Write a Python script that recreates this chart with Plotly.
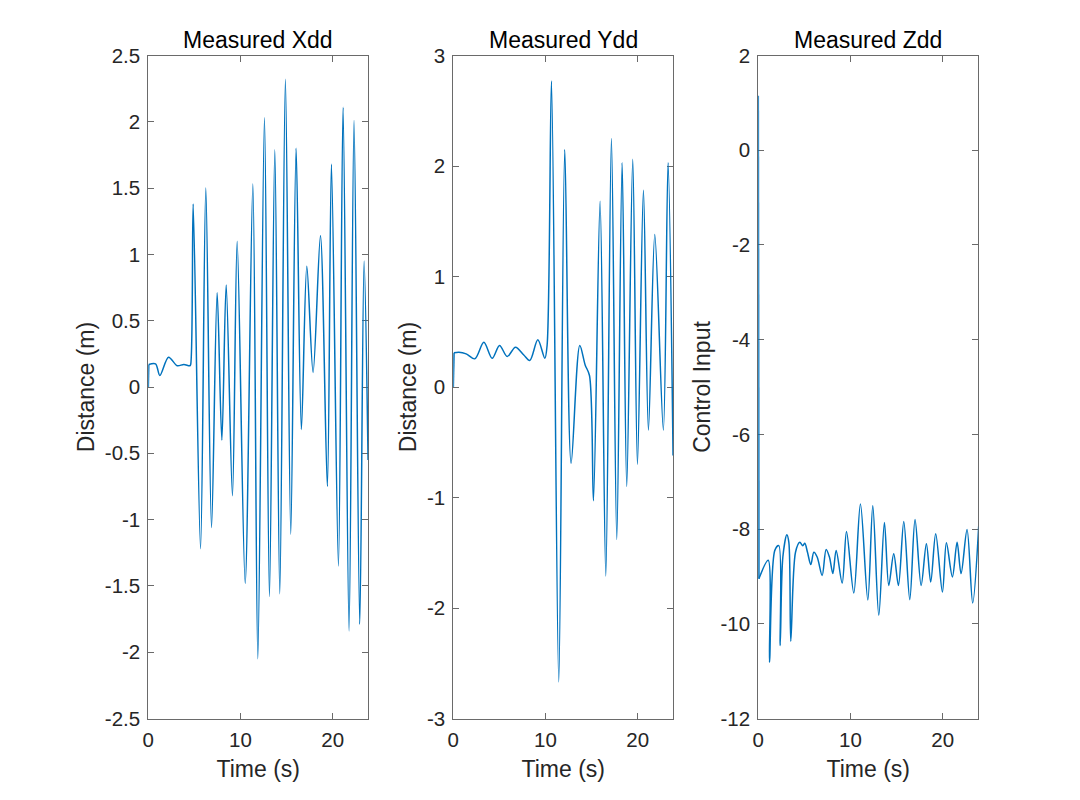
import plotly.graph_objects as go

# Measured Xdd: extrema (time s, distance m)
t_x = [0, 0.05, 0.79, 1.26, 2.2, 3.14, 3.86, 4.51, 4.6, 4.87, 5.67, 6.24, 6.86,
       7.47, 7.98, 8.45, 9.13, 9.64, 10.51, 11.34, 11.88, 12.6, 13.14, 13.72,
       14.26, 14.87, 15.45, 16.03, 16.6, 17.19, 17.87, 18.67, 19.42, 19.86,
       20.62, 21.12, 21.77, 22.31, 22.93, 23.4, 23.83]
xdd = [0.0, 0.17, 0.175, 0.087, 0.225, 0.16, 0.17, 0.16, 0.17, 1.38, -1.22, 1.50,
       -1.06, 0.71, -0.40, 0.77, -0.82, 1.10, -1.48, 1.53, -2.05, 2.03, -1.58,
       1.79, -1.56, 2.32, -1.11, 1.80, -0.32, 0.91, 0.11, 1.14, -0.75, 1.68,
       -1.35, 2.11, -1.84, 2.01, -1.79, 0.95, -0.55]

# Measured Ydd
t_y = [0, 0.08, 0.61, 1.4, 2.34, 3.32, 4.22, 5.02, 5.85, 6.75, 7.65, 8.3, 9.17,
       9.93, 10.18, 10.65, 11.44, 12.09, 12.78, 13.72, 14.3, 14.77, 15.2, 15.92,
       16.54, 17.15, 17.73, 18.31, 18.81, 19.46, 19.97, 20.62, 21.16, 21.85,
       22.78, 23.29, 23.83]
ydd = [0.0, 0.31, 0.315, 0.3, 0.255, 0.405, 0.26, 0.376, 0.276, 0.36, 0.29, 0.24,
       0.427, 0.26, 0.38, 2.77, -2.67, 2.15, -0.69, 0.376, 0.2, 0.104, -1.03,
       1.68, -1.71, 2.25, -1.38, 2.03, -0.90, 2.06, -0.70, 1.78, -0.39, 1.38,
       -0.39, 2.03, -0.62]

# Measured Zdd (control input)
t_z = [0, 0.07, 1.08, 1.22, 1.8, 2.23, 2.38, 2.67, 3.1, 3.32, 3.53, 4.04, 4.51,
       4.83, 5.05, 5.34, 5.7, 6.03, 6.39, 6.93, 7.36, 7.72, 8.09, 8.45, 9.1,
       9.57, 10.36, 11.08, 11.88, 12.42, 13.07, 13.68, 14.15, 14.69, 15.2,
       15.78, 16.43, 17.0, 17.66, 18.23, 18.7, 19.24, 19.97, 20.4, 21.05,
       21.56, 21.99, 22.64, 23.25, 23.9]
zdd = [1.15, -9.05, -8.66, -10.81, -8.45, -8.35, -10.46, -8.59, -8.12, -8.28,
       -10.37, -8.49, -8.28, -8.35, -8.30, -8.49, -8.75, -8.49, -8.59, -8.98,
       -8.43, -8.59, -8.94, -8.45, -9.14, -8.05, -9.35, -7.47, -9.50, -7.51,
       -9.82, -7.86, -9.19, -8.52, -9.19, -7.84, -9.49, -7.80, -9.19, -8.31,
       -9.12, -8.10, -9.33, -8.29, -9.01, -8.28, -8.94, -8.01, -9.56, -7.94]

# tick labels (MATLAB style, hyphen minus)
x_ticks = [0, 10, 20]
y_ticks = [
    [-2.5, -2, -1.5, -1, -0.5, 0, 0.5, 1, 1.5, 2, 2.5],
    [-3, -2, -1, 0, 1, 2, 3],
    [-12, -10, -8, -6, -4, -2, 0, 2],
]

titles = ["Measured Xdd", "Measured Ydd", "Measured Zdd"]
ylabels = ["Distance (m)", "Distance (m)", "Control Input"]
yranges = [[-2.5, 2.5], [-3, 3], [-12, 2]]

blue = "#0072BD"
axis_col = "#262626"
font = "Liberation Sans, Arial, sans-serif"

# page has ~8px body offset, so shift domains a bit
dx = 7.5 / 1080
dy = 7.5 / 800
domains = [[0.1368 - dx, 0.3405 - dx], [0.4192 - dx, 0.6229 - dx], [0.7016 - dx, 0.9053 - dx]]
ydom = [0.1025 + dy, 0.93125 + dy]


def fmt(v):
    return ("%g" % v)


fig = go.Figure()
series = [(t_x, xdd), (t_y, ydd), (t_z, zdd)]
for i, (tt, vv) in enumerate(series):
    n = "" if i == 0 else str(i + 1)
    # first (near vertical) step drawn straight, rest smoothed
    fig.add_trace(go.Scatter(x=tt[:2], y=vv[:2], mode="lines",
                             line=dict(color=blue, width=1.7),
                             xaxis="x" + n, yaxis="y" + n, showlegend=False))
    fig.add_trace(go.Scatter(x=tt[1:], y=vv[1:], mode="lines",
                             line=dict(color=blue, width=1.5, shape="spline", smoothing=0.9),
                             xaxis="x" + n, yaxis="y" + n, showlegend=False))
    common = dict(showline=True, linecolor="#6a6a6a", linewidth=1, mirror="ticks",
                  ticks="inside", ticklen=6, tickcolor="#6a6a6a", showgrid=False,
                  zeroline=False, automargin=False, layer="below traces",
                  ticklabelstandoff=3,
                  tickfont=dict(size=20.5, color=axis_col, family=font))
    fig.update_layout(**{
        "xaxis" + n: dict(domain=domains[i], range=[0, 23.85], anchor="y" + n,
                          tickvals=x_ticks, ticktext=[fmt(v) for v in x_ticks],
                          title=dict(text="Time (s)", standoff=10,
                                     font=dict(size=23, color=axis_col, family=font)),
                          **common),
        "yaxis" + n: dict(domain=ydom, range=yranges[i], anchor="x" + n,
                          tickvals=y_ticks[i], ticktext=[fmt(v) for v in y_ticks[i]],
                          title=dict(text=ylabels[i], standoff=3,
                                     font=dict(size=23, color=axis_col, family=font)),
                          **common),
    })
    fig.add_annotation(text=titles[i], xref="paper", yref="paper",
                       x=sum(domains[i]) / 2, y=ydom[1], xanchor="center",
                       yanchor="bottom", yshift=0, showarrow=False,
                       font=dict(size=23, color="#000000", family=font))

fig.update_layout(width=1080, height=800, margin=dict(l=0, r=0, t=0, b=0),
                  plot_bgcolor="white", paper_bgcolor="white")

fig.write_html("out.html")
